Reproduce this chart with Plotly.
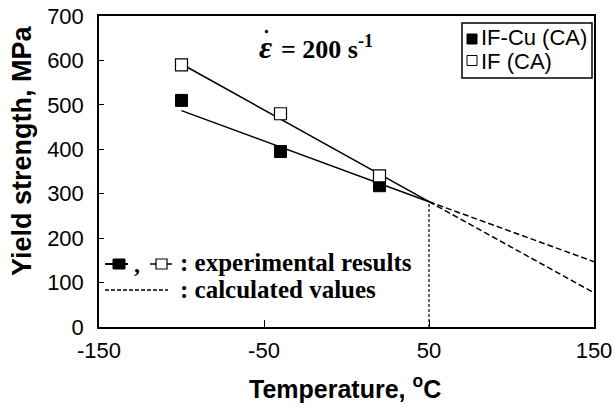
import plotly.graph_objects as go

# ---- data ----
temps = [-100, -40, 20]
ifcu_exp = [510, 395, 318]
if_exp = [590, 480, 340]

fit_x = [-100, 50]
ifcu_fit = [487, 282]
if_fit = [592, 282]

calc_x = [50, 150]
ifcu_calc = [282, 147]
if_calc = [282, 77]

vline_x = [50, 50]
vline_y = [0, 282]

x_ticks = [-150, -50, 50, 150]
x_ticktext = ["-150", "-50", "50", "150"]
y_ticks = [0, 100, 200, 300, 400, 500, 600, 700]

# ---- layout geometry ----
W, H = 615, 408
ML, MR, MT, MB = 99, 21, 16, 81
PW, PH = W - ML - MR, H - MT - MB


def pxx(x):
    return (x - ML) / PW


def pxy(y):
    return (H - MB - y) / PH


SANS = "Arial, Liberation Sans, sans-serif"
SERIF = "Times New Roman, Liberation Serif, serif"

fig = go.Figure()

line_style = dict(color="black", width=1.5)
fig.add_trace(go.Scatter(x=fit_x, y=ifcu_fit, mode="lines", line=line_style, showlegend=False))
fig.add_trace(go.Scatter(x=fit_x, y=if_fit, mode="lines", line=line_style, showlegend=False))
fig.add_trace(go.Scatter(x=calc_x, y=ifcu_calc, mode="lines",
                         line=dict(color="black", width=1.5, dash="6px,3px"), showlegend=False))
fig.add_trace(go.Scatter(x=calc_x, y=if_calc, mode="lines",
                         line=dict(color="black", width=1.5, dash="6px,3px"), showlegend=False))
fig.add_trace(go.Scatter(x=vline_x, y=vline_y, mode="lines",
                         line=dict(color="black", width=1.2, dash="3px,2px"), showlegend=False))
fig.add_trace(go.Scatter(x=temps, y=ifcu_exp, mode="markers", name="IF-Cu (CA)",
                         marker=dict(symbol="square", size=12, color="black",
                                     line=dict(color="black", width=1)), showlegend=False))
fig.add_trace(go.Scatter(x=temps, y=if_exp, mode="markers", name="IF (CA)",
                         marker=dict(symbol="square", size=12, color="white",
                                     line=dict(color="black", width=1.2)), showlegend=False))

shapes = []
annotations = []

# legend box (top right)
shapes.append(dict(type="rect", xref="paper", yref="paper",
                   x0=pxx(462), x1=pxx(592), y0=pxy(78), y1=pxy(23),
                   line=dict(color="black", width=1.5), fillcolor="white"))
shapes.append(dict(type="rect", xref="paper", yref="paper",
                   x0=pxx(467), x1=pxx(477), y0=pxy(44), y1=pxy(34),
                   line=dict(color="black", width=1), fillcolor="black"))
shapes.append(dict(type="rect", xref="paper", yref="paper",
                   x0=pxx(467), x1=pxx(477), y0=pxy(65.5), y1=pxy(55.5),
                   line=dict(color="black", width=1), fillcolor="white"))
annotations.append(dict(text="IF-Cu (CA)", xref="paper", yref="paper", x=pxx(479), y=pxy(38),
                        xanchor="left", yanchor="middle", showarrow=False,
                        font=dict(family=SANS, size=22, color="black")))
annotations.append(dict(text="IF (CA)", xref="paper", yref="paper", x=pxx(479), y=pxy(62),
                        xanchor="left", yanchor="middle", showarrow=False,
                        font=dict(family=SANS, size=22, color="black")))

# strain rate label
annotations.append(dict(text="<b><i>ε</i></b>", xref="paper", yref="paper",
                        x=pxx(265), y=pxy(47), xanchor="center", yanchor="middle", showarrow=False,
                        font=dict(family=SERIF, size=32, color="black")))
shapes.append(dict(type="circle", xref="paper", yref="paper",
                   x0=pxx(265), x1=pxx(268), y0=pxy(33), y1=pxy(30),
                   line=dict(color="black", width=0.5), fillcolor="black"))
annotations.append(dict(text="<b>= 200 s<sup>-1</sup></b>", xref="paper", yref="paper",
                        x=pxx(279), y=pxy(48), xanchor="left", yanchor="middle", showarrow=False,
                        font=dict(family=SERIF, size=26, color="black")))

# lower-left key
ky1, ky2 = 264, 290
shapes.append(dict(type="line", xref="paper", yref="paper",
                   x0=pxx(105), x1=pxx(128), y0=pxy(ky1), y1=pxy(ky1),
                   line=dict(color="black", width=2)))
shapes.append(dict(type="rect", xref="paper", yref="paper",
                   x0=pxx(113), x1=pxx(125), y0=pxy(ky1 + 5), y1=pxy(ky1 - 5),
                   line=dict(color="black", width=1), fillcolor="black"))
shapes.append(dict(type="line", xref="paper", yref="paper",
                   x0=pxx(150), x1=pxx(172), y0=pxy(ky1), y1=pxy(ky1),
                   line=dict(color="black", width=1.5)))
shapes.append(dict(type="rect", xref="paper", yref="paper",
                   x0=pxx(156), x1=pxx(167), y0=pxy(ky1 + 5), y1=pxy(ky1 - 5),
                   line=dict(color="black", width=1.2), fillcolor="white"))
shapes.append(dict(type="line", xref="paper", yref="paper",
                   x0=pxx(105), x1=pxx(168), y0=pxy(ky2), y1=pxy(ky2),
                   line=dict(color="black", width=1.5, dash="4px,2px")))
annotations.append(dict(text="<b>,</b>", xref="paper", yref="paper", x=pxx(137), y=pxy(ky1),
                        xanchor="center", yanchor="middle", showarrow=False,
                        font=dict(family=SERIF, size=24, color="black")))
annotations.append(dict(text="<b>: experimental results</b>", xref="paper", yref="paper",
                        x=pxx(178), y=pxy(ky1 - 2), xanchor="left", yanchor="middle", showarrow=False,
                        font=dict(family=SERIF, size=25, color="black")))
annotations.append(dict(text="<b>: calculated values</b>", xref="paper", yref="paper",
                        x=pxx(178), y=pxy(ky2 - 1), xanchor="left", yanchor="middle", showarrow=False,
                        font=dict(family=SERIF, size=25, color="black")))

# y-axis title (placed as in reference, slightly above plot centre)
annotations.append(dict(text="<b>Yield strength, MPa</b>", xref="paper", yref="paper",
                        x=pxx(22), y=pxy(151), xanchor="center", yanchor="middle",
                        textangle=-90, showarrow=False,
                        font=dict(family=SANS, size=27, color="black")))

# x-axis title
annotations.append(dict(text="<b>Temperature, <sup>o</sup>C</b>", xref="paper", yref="paper",
                        x=pxx(345), y=pxy(387), xanchor="center", yanchor="middle",
                        showarrow=False,
                        font=dict(family=SANS, size=25, color="black")))

fig.update_layout(
    width=W, height=H,
    margin=dict(l=ML, r=MR, t=MT, b=MB, pad=0, autoexpand=False),
    paper_bgcolor="white", plot_bgcolor="white",
    shapes=shapes, annotations=annotations,
    showlegend=False,
    xaxis=dict(range=[-150, 150], tickvals=x_ticks, ticktext=x_ticktext,
               ticks="inside", ticklen=7, tickwidth=1.2, tickcolor="black",
               showline=True, linecolor="black", linewidth=1.5, mirror=True,
               showgrid=False, zeroline=False, ticklabelstandoff=3, automargin=False,
               tickfont=dict(family=SANS, size=22, color="black")),
    yaxis=dict(range=[0, 700], tickvals=y_ticks,
               ticks="inside", ticklen=5, tickwidth=1.2, tickcolor="black",
               showline=True, linecolor="black", linewidth=1.5, mirror=True,
               showgrid=False, zeroline=False, ticklabelstandoff=9, automargin=False,
               tickfont=dict(family=SANS, size=22, color="black")),
)

fig.write_html("out.html")
